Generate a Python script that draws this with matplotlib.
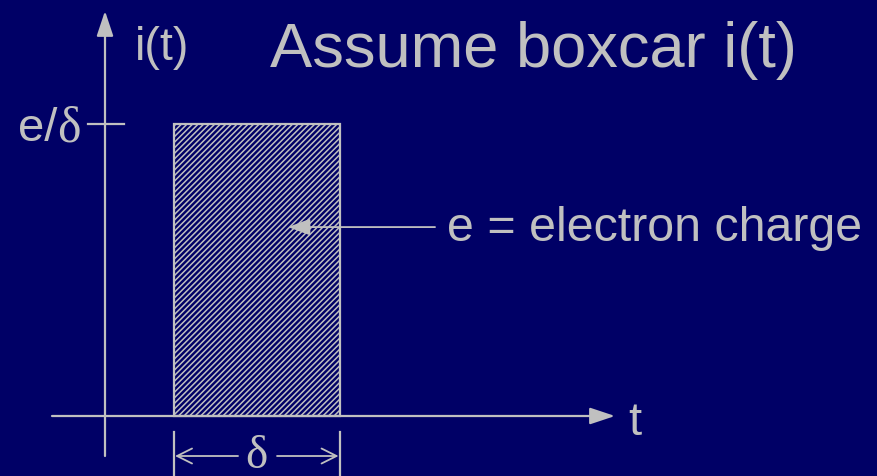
import matplotlib
matplotlib.use("Agg")
import matplotlib.pyplot as plt

# ---- data ----
pulse_start = [1.0]      # t where pulse begins
pulse_width = [2.4]      # delta
pulse_height = [1.0]     # e/delta
title_text = "Assume boxcar i(t)"
ylabel_text = "i(t)"
xlabel_text = "t"
tick_label = "e/"
tick_label_greek = "δ"
note_text = "e = electron charge"
width_label = "δ"

BG = "#000066"
FG = "#C0C0C0"

plt.rcParams["hatch.linewidth"] = 1.1
plt.rcParams["hatch.color"] = "#9A9AC0"

fig = plt.figure(figsize=(8.78, 4.77), dpi=100, facecolor=BG)
ax = fig.add_axes([0, 0, 1, 1])
ax.set_facecolor(BG)
ax.set_xlim(-105 / 69, (878 - 105) / 69)
ax.set_ylim((417 - 477) / 292, 417 / 292)
ax.axis("off")

# boxcar pulse
ax.bar(pulse_start, pulse_height, width=pulse_width, align="edge",
       facecolor=BG, edgecolor=FG, hatch="//////", linewidth=1.6, zorder=2)

arrow_big = dict(arrowstyle="-|>,head_length=0.9,head_width=0.3", color=FG,
                 lw=1.6, mutation_scale=17, shrinkA=0, shrinkB=0)
# axes
ax.annotate("", xy=(0, 1.387), xytext=(0, -0.137), arrowprops=arrow_big, zorder=3)
ax.annotate("", xy=(7.391, 0), xytext=(-0.768, 0), arrowprops=arrow_big, zorder=3)

# tick at e/delta
h = pulse_height[0]
ax.plot([-0.246, 0.275], [h, h], color=FG, lw=1.6)

# dimension lines
t0 = pulse_start[0]
t1 = pulse_start[0] + pulse_width[0]
for tx in (t0, t1):
    ax.plot([tx, tx], [-0.055, -0.21], color=FG, lw=1.6, clip_on=False)
arrow_small = dict(arrowstyle="->,head_length=0.6,head_width=0.3", color=FG,
                   lw=1.3, mutation_scale=18, shrinkA=0, shrinkB=0)
ax.annotate("", xy=(t0 + 0.015, -0.137), xytext=(1.928, -0.137), arrowprops=arrow_small)
ax.annotate("", xy=(t1 - 0.015, -0.137), xytext=(2.493, -0.137), arrowprops=arrow_small)

# pointer arrow
arrow_ptr = dict(arrowstyle="-|>,head_length=0.8,head_width=0.3", color=FG,
                 lw=1.3, mutation_scale=17, shrinkA=0, shrinkB=0)
ax.annotate("", xy=(2.652, 0.647), xytext=(4.783, 0.647), arrowprops=arrow_ptr, zorder=3)

sans = "Liberation Sans"
serif = "Liberation Serif"
ax.text(2.391, 1.198, title_text, color=FG, fontsize=45.5, family=sans, va="baseline", ha="left")
ax.text(0.435, 1.223, ylabel_text, color=FG, fontsize=33.5, family=sans, va="baseline", ha="left")
ax.text(7.58, -0.062, xlabel_text, color=FG, fontsize=34, family=sans, va="baseline", ha="left")
ax.text(-0.696, 0.945, tick_label, color=FG, fontsize=34, family=sans, va="baseline", ha="right")
ax.text(-0.696, 0.945, tick_label_greek, color=FG, fontsize=36, family=serif, va="baseline", ha="left")
ax.text(4.957, 0.603, note_text, color=FG, fontsize=34.8, family=sans, va="baseline", ha="left")
ax.text((t0 + t1) / 2, -0.137, width_label, color=FG, fontsize=34, family=serif,
        va="center", ha="center")

fig.savefig("out.png", dpi=100, facecolor=BG)
